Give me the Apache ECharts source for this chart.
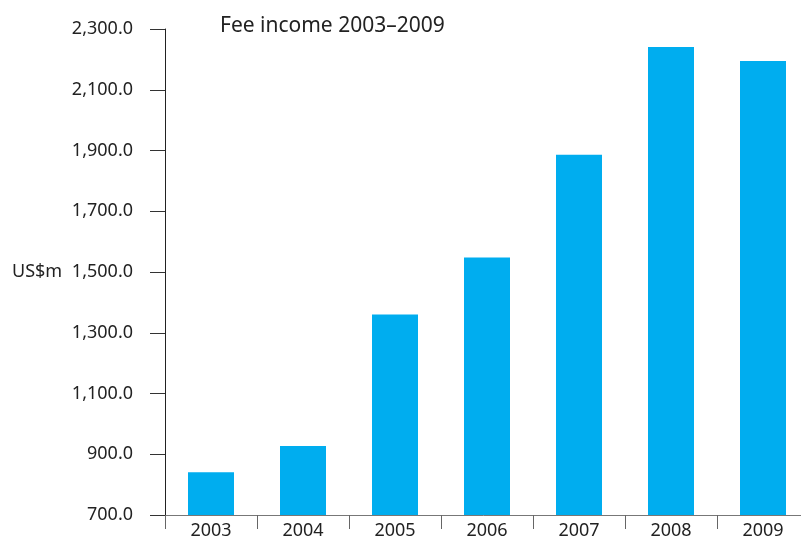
<!DOCTYPE html>
<html style="height: 100%">
    <head>
        <meta charset="utf-8">
        <script src="https://cdn.jsdelivr.net/npm/echarts@6/dist/echarts.min.js"></script>
    </head>
    <body style="height: 100%; margin: 0; background: #fff">
        <div id="container" style="width: 801px; height: 538px"></div>
    </body>
</html>
<script>
    // data
    var years = ['2003', '2004', '2005', '2006', '2007', '2008', '2009'];
    var feeIncome = [841, 927, 1360, 1548, 1886, 2241, 2195];
    var yMin = 700, yMax = 2300, yStep = 200;

    var dom = document.getElementById("container");
    var myChart = echarts.init(dom);
    var font = 'Noto Sans';

    function fmt(v) {
        return v.toLocaleString('en-US', { minimumFractionDigits: 1, maximumFractionDigits: 1 });
    }

    var option = {
      animation: false,
      textStyle: { fontFamily: font },
      title: {
        text: 'Fee income 2003\u20132009',
        left: 215,
        top: 11,
        textStyle: { fontFamily: font, fontSize: 21, fontWeight: 'normal', color: '#222' }
      },
      grid: {
        left: 165,
        right: -8,
        top: 29,
        bottom: 23,
        outerBoundsMode: 'none'
      },
      xAxis: {
        type: 'category',
        data: years,
        axisLine: { lineStyle: { color: '#777', width: 1 } },
        axisTick: { show: true, length: 14, lineStyle: { color: '#666' } },
        axisLabel: { color: '#222', fontSize: 18, margin: 7, fontFamily: font }
      },
      yAxis: {
        type: 'value',
        min: yMin,
        max: yMax,
        interval: yStep,
        name: 'US$m',
        nameLocation: 'middle',
        nameRotate: 0,
        nameGap: 153,
        nameTextStyle: { color: '#222', fontSize: 18, fontFamily: font, align: 'left' },
        axisLine: { show: true, lineStyle: { color: '#222', width: 1 } },
        axisTick: { show: true, length: 15, lineStyle: { color: '#333' } },
        splitLine: { show: false },
        axisLabel: { color: '#222', fontSize: 18, margin: 32, fontFamily: font, formatter: fmt }
      },
      series: [
        {
          name: 'Fee income',
          type: 'bar',
          barWidth: 46,
          itemStyle: { color: '#00adef' },
          data: feeIncome
        }
      ]
    };

    myChart.setOption(option);
</script>
